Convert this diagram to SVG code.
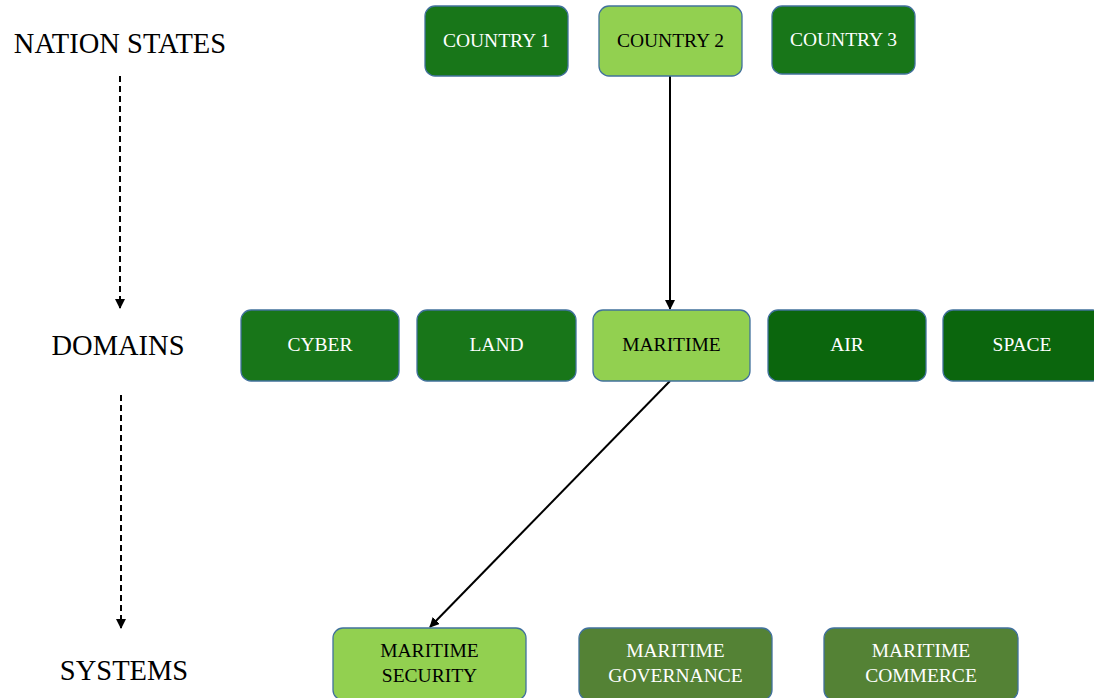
<svg xmlns="http://www.w3.org/2000/svg" width="1094" height="698" viewBox="0 0 1094 698">
<defs>
<style>
.n rect{stroke:#41719c;stroke-width:1.3}
.dk rect{fill:#187619}
.dk2 rect{fill:#0b660d}
.lt rect{fill:#92d050}
.ol rect{fill:#548235}
text{font-family:"Liberation Serif","Times New Roman",serif;text-anchor:middle}
.n text{font-size:19.5px}
.dk text,.dk2 text,.ol text{fill:#ffffff}
.lt text{fill:#000000}
.lbl{font-size:28.5px;fill:#000}
.c{stroke:#000;stroke-width:2;fill:none}
.d{stroke:#000;stroke-width:2;fill:none;stroke-dasharray:6 4}
</style>
<marker id="ah" markerWidth="10" markerHeight="10" refX="9" refY="5" orient="auto" markerUnits="userSpaceOnUse">
<path d="M0,0 L10,5 L0,10 Z" fill="#000"/>
</marker>
</defs>
<rect width="1094" height="698" fill="#fff"/>
<g id="labels">
<text class="lbl" x="120" y="53">NATION STATES</text>
<text class="lbl" x="118" y="355">DOMAINS</text>
<text class="lbl" x="124" y="680">SYSTEMS</text>
</g>
<g id="connectors">
<line class="d" x1="120" y1="76" x2="120" y2="308" marker-end="url(#ah)"/>
<line class="d" x1="121" y1="395" x2="121" y2="628" marker-end="url(#ah)"/>
<line class="c" x1="670" y1="76" x2="670" y2="309" marker-end="url(#ah)"/>
<line class="c" x1="670" y1="381" x2="430" y2="627" marker-end="url(#ah)"/>
</g>
<g id="country1" class="n dk"><rect x="425" y="6" width="143" height="70" rx="10"/><text x="496.5" y="47">COUNTRY 1</text></g>
<g id="country2" class="n lt"><rect x="599" y="6" width="143" height="70" rx="10"/><text x="670.5" y="47">COUNTRY 2</text></g>
<g id="country3" class="n dk"><rect x="772" y="6" width="143" height="68" rx="10"/><text x="843.5" y="46">COUNTRY 3</text></g>
<g id="cyber" class="n dk"><rect x="241" y="310" width="158" height="71" rx="10"/><text x="320" y="351">CYBER</text></g>
<g id="land" class="n dk"><rect x="417" y="310" width="159" height="71" rx="10"/><text x="496.5" y="351">LAND</text></g>
<g id="maritime" class="n lt"><rect x="593" y="310" width="157" height="71" rx="10"/><text x="671.5" y="351">MARITIME</text></g>
<g id="air" class="n dk2"><rect x="768" y="310" width="158" height="71" rx="10"/><text x="847" y="351">AIR</text></g>
<g id="space" class="n dk2"><rect x="943" y="310" width="160" height="71" rx="10"/><text x="1022" y="351">SPACE</text></g>
<g id="msecurity" class="n lt"><rect x="333" y="628" width="193" height="72" rx="10"/><text x="429.5" y="657">MARITIME</text><text x="429.5" y="682">SECURITY</text></g>
<g id="mgovernance" class="n ol"><rect x="579" y="628" width="193" height="72" rx="10"/><text x="675.5" y="657">MARITIME</text><text x="675.5" y="682">GOVERNANCE</text></g>
<g id="mcommerce" class="n ol"><rect x="824" y="628" width="194" height="72" rx="10"/><text x="921" y="657">MARITIME</text><text x="921" y="682">COMMERCE</text></g>
</svg>
